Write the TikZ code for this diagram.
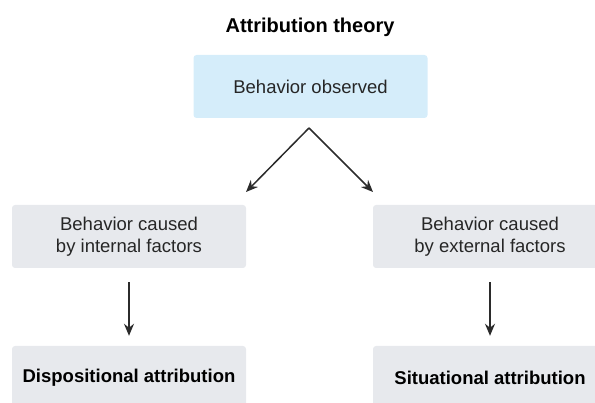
\documentclass[tikz,border=0pt]{standalone}
\usepackage{fontspec}
\setmainfont{Liberation Sans}
\usetikzlibrary{arrows.meta}
\definecolor{bluebox}{HTML}{D5EDFA}
\definecolor{graybox}{HTML}{E7E9ED}
\definecolor{arrowc}{HTML}{2B2B2B}
\begin{document}
\begin{tikzpicture}[x=1pt,y=-1pt,
  box/.style={rounded corners=3pt, minimum width=234pt, minimum height=63pt, align=center,
    font=\fontsize{18.5}{22}\selectfont, inner sep=0pt, text=black!85},
  boldbox/.style={box, font=\fontsize{18.5}{22}\selectfont\bfseries, text=black},
  arr/.style={-{Stealth[length=12pt,width=10pt]}, line width=1.5pt, draw=arrowc}]
\useasboundingbox (0,0) rectangle (595,403);
\node[anchor=base, font=\fontsize{20}{24}\selectfont\bfseries] (title) at (310,33) {Attribution theory};
\node[box, fill=bluebox] (obs) at (310.5,86.5) {Behavior observed};
\coordinate (apex) at (309,128);
\coordinate (tl) at (246,192);
\coordinate (tr) at (373,192);
\node[box, fill=graybox] (int) at (129,236.5) {Behavior caused\\by internal factors};
\node[box, fill=graybox] (ext) at (490,236.5) {Behavior caused\\by external factors};
\node[boldbox, fill=graybox] (disp) at (129,377.5) {Dispositional attribution};
\node[boldbox, fill=graybox] (sit) at (490,377.5) {Situational attribution};
\draw[arr] (apex) -- (tl);
\draw[arr] (apex) -- (tr);
\draw[arr, shorten <=14pt, shorten >=10pt] (int) -- (disp);
\draw[arr, shorten <=14pt, shorten >=10pt] (ext) -- (sit);
\end{tikzpicture}
\end{document}
